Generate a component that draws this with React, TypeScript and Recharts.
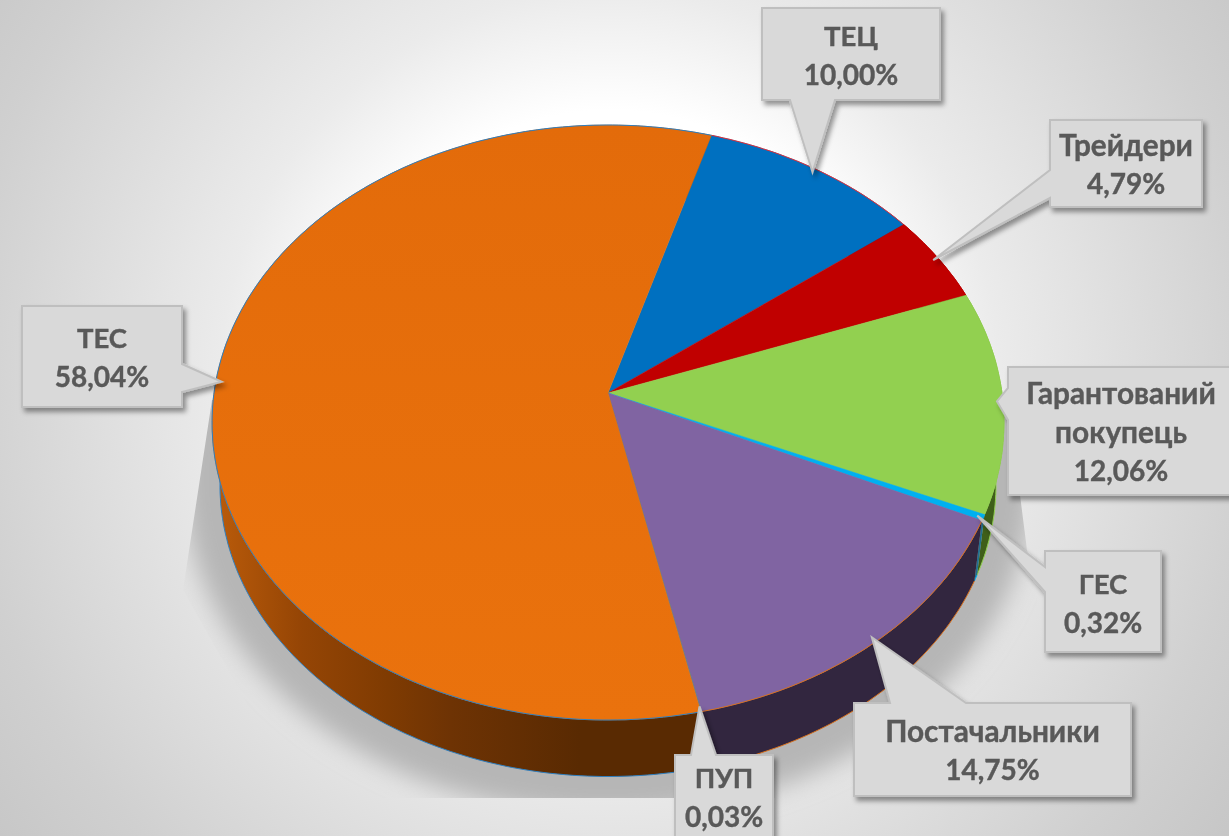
import React from "react";
import { Pie, PieChart } from "recharts";

const categories = ["ТЕЦ", "Трейдери", "Гарантований покупець", "ГЕС", "Постачальники", "ПУП", "ТЕС"];
const shares = [10.0, 4.79, 12.06, 0.32, 14.75, 0.03, 58.04];
const faceColors = ["#0070c0", "#c00000", "#92d050", "#00b0f0", "#8064a2", "#5f7f8c", "url(#faceOrange)"];
const wallColors = ["#003a66", "#600000", "#3f5f1a", "#1f6f8f", "#32263f", "#1a3a50", "url(#wallOrange)"];
const rimColors = ["#e0303a", "#c00000", "#92d050", "#00b0f0", "#d8701c", "#5f7f8c", "#2e7fc0"];

const rows = categories.map((name, i) => ({
  name,
  value: shares[i],
  fill: faceColors[i],
  wall: wallColors[i],
  rim: rimColors[i],
}));

// callout layout, same order as categories
const callouts = [
  { x: 762, y: 8, w: 178, h: 92, side: "bottom", a: 790, b: 835, textY: 35 },
  { x: 1050, y: 120, w: 152, h: 87, side: "left", a: 170, b: 198, textY: 144 },
  { x: 1008, y: 367, w: 240, h: 128, side: "left", a: 388, b: 420, textY: 392 },
  { x: 1045, y: 551, w: 116, h: 101, side: "left", a: 567, b: 592, textY: 583 },
  { x: 854, y: 703, w: 277, h: 93, side: "top", a: 890, b: 966, textY: 730 },
  { x: 675, y: 755, w: 98, h: 100, side: "top", a: 691, b: 716, textY: 777 },
  { x: 22, y: 306, w: 160, h: 101, side: "right", a: 364, b: 392, textY: 337 },
];

const WIDTH = 1229;
const HEIGHT = 836;
const CX = 608;
const CY = 393;
const RADIUS = 394;
const TILT = 0.7477; // vertical squash of the disc
const PERSP = 0.0992; // far edge is a bit smaller than near edge
const WALL_DROP = 63; // lower rim sits this far below the top one
const WALL_SCALE = 0.98; // and is a little narrower

// angle is recharts style: degrees, counter clockwise from 3 o'clock
function project(cx: number, cy: number, r: number, angle: number, scale = 1) {
  const u = Math.cos((angle * Math.PI) / 180) * scale;
  const v = Math.sin((angle * Math.PI) / 180) * scale;
  const d = 1 + PERSP * v;
  return { x: cx + (r * u) / d, y: cy - (r * TILT * v) / d };
}

function arcPoints(cx: number, cy: number, r: number, start: number, end: number) {
  const steps = Math.max(2, Math.ceil(Math.abs(end - start)));
  const pts = [];
  for (let i = 0; i <= steps; i++) pts.push(project(cx, cy, r, start + ((end - start) * i) / steps));
  return pts;
}

const toPath = (pts: { x: number; y: number }[]) => pts.map((p, i) => `${i ? "L" : "M"}${p.x.toFixed(1)} ${p.y.toFixed(1)}`).join(" ");

function FaceSector(props: any) {
  const { cx, cy, outerRadius, startAngle, endAngle, fill, payload } = props;
  const arc = arcPoints(cx, cy, outerRadius, startAngle, endAngle);
  const rim = payload?.rim ?? props.rim;
  return (
    <g>
      <path d={`M${cx} ${cy} ${toPath(arc).replace("M", "L")} Z`} fill={fill} stroke={fill} strokeWidth={0.5} />
      <path d={toPath(arc)} fill="none" stroke={rim} strokeWidth={1} />
    </g>
  );
}

function WallSector(props: any) {
  const { cx, cy, outerRadius, startAngle, endAngle, payload } = props;
  const top = arcPoints(cx, cy, outerRadius, startAngle, endAngle);
  const bottom = arcPoints(cx, cy + WALL_DROP, outerRadius * WALL_SCALE, startAngle, endAngle);
  const wall = payload?.wall ?? props.wall;
  const rim = payload?.rim ?? props.rim;
  return (
    <g>
      <path d={`${toPath(top)} ${toPath(bottom.slice().reverse()).replace("M", "L")} Z`} fill={wall} />
      <path d={toPath(bottom)} fill="none" stroke={rim} strokeWidth={1} />
    </g>
  );
}

function calloutPath(c: (typeof callouts)[number], tip: { x: number; y: number }) {
  const r = c.x + c.w;
  const b = c.y + c.h;
  const pts = [{ x: c.x, y: c.y }];
  if (c.side === "top") pts.push({ x: c.a, y: c.y }, tip, { x: c.b, y: c.y });
  pts.push({ x: r, y: c.y });
  if (c.side === "right") pts.push({ x: r, y: c.a }, tip, { x: r, y: c.b });
  pts.push({ x: r, y: b });
  if (c.side === "bottom") pts.push({ x: c.b, y: b }, tip, { x: c.a, y: b });
  pts.push({ x: c.x, y: b });
  if (c.side === "left") pts.push({ x: c.x, y: c.b }, tip, { x: c.x, y: c.a });
  return toPath(pts) + " Z";
}

// Lato is a bit off from the original face, so lowercase runs larger than caps and digits
function lineSize(line: string) {
  if (line.endsWith("%")) return 28;
  return line === line.toUpperCase() ? 27.5 : 29.8;
}

function Callout(props: any) {
  const { cx, cy, outerRadius, midAngle, index, name, value } = props;
  const c = callouts[index];
  const tip = project(cx, cy, outerRadius, midAngle, 0.985);
  const lines = [...String(name).split(" "), `${Number(value).toFixed(2).replace(".", ",")}%`];
  return (
    <g>
      <path d={calloutPath(c, tip)} fill="#d9d9d9" stroke="#bfbfbf" strokeWidth={2} filter="url(#boxShadow)" />
      {lines.map((line, i) => (
        <text
          key={line}
          x={c.w === 240 ? 1121 : c.x + c.w / 2}
          y={c.textY + i * 39}
          textAnchor="middle"
          dominantBaseline="central"
          fontFamily="Lato, 'Open Sans', sans-serif"
          fontWeight={700}
          fontSize={lineSize(line)}
          fill="#595959"
          stroke="#595959"
          strokeWidth={0.4}
        >
          {line}
        </text>
      ))}
    </g>
  );
}

export default function App() {
  return (
    <div
      style={{
        position: "fixed",
        left: 0,
        top: 0,
        width: WIDTH,
        height: HEIGHT,
        overflow: "hidden",
        background:
          "radial-gradient(circle 800px at 610px 380px, #ffffff 0px, #ffffff 270px, #ebebeb 390px, #d0d0d0 650px, #c4c4c4 800px)",
      }}
    >
      <svg width={WIDTH} height={HEIGHT} style={{ position: "absolute", left: 0, top: 0 }}>
        <defs>
          <linearGradient id="faceOrange" gradientUnits="userSpaceOnUse" x1="0" y1="125" x2="0" y2="720">
            <stop offset="0%" stopColor="#e36b0a" />
            <stop offset="100%" stopColor="#ea720d" />
          </linearGradient>
          <linearGradient id="wallOrange" gradientUnits="userSpaceOnUse" x1="220" y1="0" x2="700" y2="0">
            <stop offset="0%" stopColor="#b85a0a" />
            <stop offset="17%" stopColor="#954505" />
            <stop offset="35%" stopColor="#7f3b02" />
            <stop offset="48%" stopColor="#6e3304" />
            <stop offset="75%" stopColor="#592a02" />
            <stop offset="100%" stopColor="#592a02" />
          </linearGradient>
          <filter id="boxShadow" x="-10%" y="-10%" width="125%" height="125%">
            <feDropShadow dx={3} dy={4} stdDeviation={2.5} floodColor="#000" floodOpacity={0.4} />
          </filter>
          <filter id="softBlur" x="-10%" y="-10%" width="120%" height="120%">
            <feGaussianBlur stdDeviation={12} />
          </filter>
          <clipPath id="shadowClip">
            <path d="M212 400 L183 590 L300 798 L775 798 L775 836 L1229 836 L1229 780 L1045 640 L1027 550 L1020 495 L1004 400 Z" />
          </clipPath>
        </defs>
        <g clipPath="url(#shadowClip)">
          <ellipse cx={608} cy={480} rx={425} ry={335} fill="#b6b6b6" filter="url(#softBlur)" />
        </g>
      </svg>
      <div style={{ position: "absolute", left: 0, top: 0 }}>
        <PieChart width={WIDTH} height={HEIGHT} margin={{ top: 0, right: 0, bottom: 0, left: 0 }}>
          <Pie
            data={rows}
            dataKey="value"
            nameKey="name"
            cx={CX}
            cy={CY}
            outerRadius={RADIUS}
            startAngle={73.3}
            endAngle={-286.7}
            stroke="none"
            shape={WallSector}
            isAnimationActive={false}
          />
          <Pie
            data={rows}
            dataKey="value"
            nameKey="name"
            cx={CX}
            cy={CY}
            outerRadius={RADIUS}
            startAngle={73.3}
            endAngle={-286.7}
            stroke="none"
            shape={FaceSector}
            label={Callout}
            labelLine={false}
            isAnimationActive={false}
          />
        </PieChart>
      </div>
    </div>
  );
}
